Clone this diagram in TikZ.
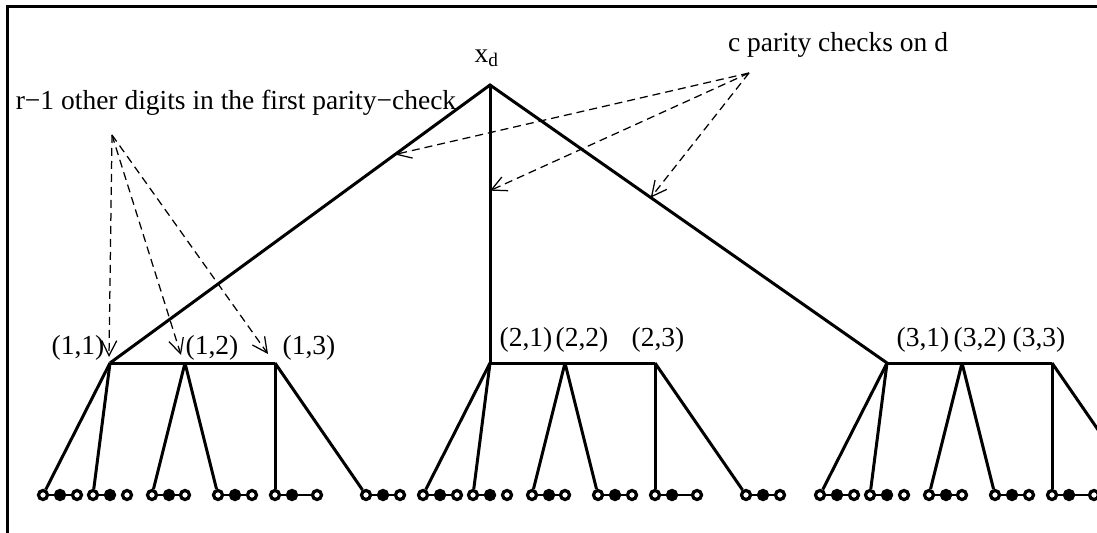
\documentclass[tikz,border=0pt]{standalone}
\usepackage{fontspec}
\setmainfont{Liberation Serif}
\usetikzlibrary{arrows.meta}

\tikzset{
  tree/.style={line width=1.2pt},
  openleaf/.style={circle, draw, fill=white, line width=1.3pt, inner sep=0pt, minimum size=3.6pt},
  fullleaf/.style={circle, draw, fill=black, line width=1.3pt, inner sep=0pt, minimum size=3.6pt},
  link/.style={line width=1.1pt},
  nolink/.style={draw=none},
  pointer/.style={dash pattern=on 3.2pt off 2pt, line width=0.5pt, -{Straight Barb[length=6pt,width=6pt]}},
  lab/.style={font=\fontsize{11}{13}\selectfont, inner sep=0pt},
}

\begin{document}
\begin{tikzpicture}[x=0.4pt, y=-0.4pt]
    \useasboundingbox (0,0) rectangle (1097,532);
    \clip (0,0) rectangle (1097,532);

    % frame
    \draw[line width=1.2pt] (7,545) -- (7,7) -- (1110,7);

    % root and first level
    \coordinate (xd) at (490,85);
    \node[lab] (xdlab) at (487,58) {x\textsubscript{d}};
    \foreach \g/\bx in {1/110, 2/490, 3/887} {
      \coordinate (n\g1) at (\bx,363);
      \coordinate (n\g2) at (\bx+75,363);
      \coordinate (n\g3) at (\bx+165,363);
      \draw[tree] (n\g1) -- (n\g3);
      % leaves
      \foreach \k/\o/\a/\b/\c/\s in {a/0/-67/-50/-33/link, b/0/-17/0/17/nolink,
                                    c/75/-33/-16/0/link, d/75/33/50/67/link,
                                    e/165/0/17/42/link, f/165/91/108/125/link} {
        \node[openleaf] (leaf\g\k1) at ({\bx+\o+(\a)},495) {};
        \node[fullleaf] (leaf\g\k2) at ({\bx+\o+(\b)},495) {};
        \node[openleaf] (leaf\g\k3) at ({\bx+\o+(\c)},495) {};
        \draw[link] (leaf\g\k1) -- (leaf\g\k2);
        \draw[\s] (leaf\g\k2) -- (leaf\g\k3);
      }
      \draw[tree] (n\g1) -- (leaf\g a1);
      \draw[tree] (n\g1) -- (leaf\g b1);
      \draw[tree] (n\g2) -- (leaf\g c1);
      \draw[tree] (n\g2) -- (leaf\g d1);
      \draw[tree] (n\g3) -- (leaf\g e1);
      \draw[tree] (n\g3) -- (leaf\g f1);
    }
    \draw[tree] (n11) -- (xd) -- (n31);
    \draw[tree] (xd) -- (n21);

    % labels of the first level
    \node[lab] (l11) at (78,348) {(1,1)};
    \node[lab] (l12) at (212,348) {(1,2)};
    \node[lab] (l13) at (309,348) {(1,3)};
    \node[lab] (l21) at (526,340) {(2,1)};
    \node[lab] (l22) at (582,340) {(2,2)};
    \node[lab] (l23) at (658,340) {(2,3)};
    \node[lab] (l31) at (923,340) {(3,1)};
    \node[lab] (l32) at (980,340) {(3,2)};
    \node[lab] (l33) at (1039,340) {(3,3)};

    % parity checks on d
    \node[lab] (cnote) at (838,45) {c parity checks on d};
    \coordinate (csrc) at (749,73);
    \path (xd) -- (n11) coordinate[pos=0.25] (t1);
    \path (xd) -- (n21) coordinate[pos=0.38] (t2);
    \path (xd) -- (n31) coordinate[pos=0.405] (t3);
    \draw[pointer] (csrc) -- (t1);
    \draw[pointer] (csrc) -- (t2);
    \draw[pointer] (csrc) -- (t3);

    % other digits in the first check
    \node[lab] (rnote) at (236,103) {r−1 other digits in the first parity−check};
    \coordinate (rsrc) at (112,135);
    \coordinate (a11) at (109,357);
    \coordinate (a12) at (181,355);
    \coordinate (a13) at (268,354);
    \draw[pointer] (rsrc) -- (a11);
    \draw[pointer] (rsrc) -- (a12);
    \draw[pointer] (rsrc) -- (a13);
\end{tikzpicture}
\end{document}
